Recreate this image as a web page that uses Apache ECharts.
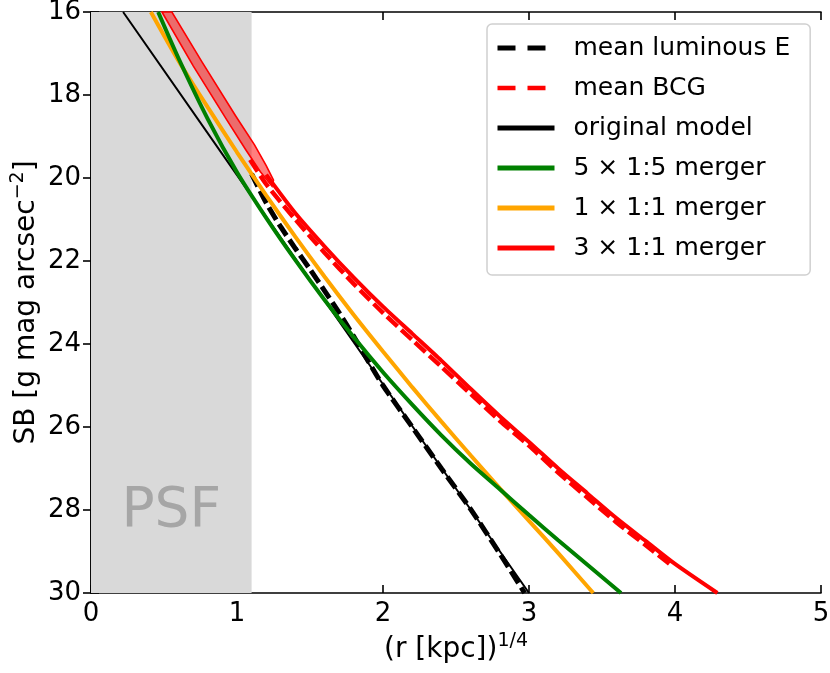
<!DOCTYPE html>
<html>
<head>
<meta charset="utf-8">
<script src="https://cdn.jsdelivr.net/npm/echarts@6/dist/echarts.min.js"></script>
<style>
html, body { margin: 0; padding: 0; background: #fff; }
#chart { width: 830px; height: 673px; }
</style>
</head>
<body>
<div id="chart"></div>
<script>
// 数据
var psfEdge = 1.1;

var lumEX = [1.10, 1.2, 1.3, 1.4, 1.5, 1.6, 1.7, 1.8, 1.9, 2.0, 2.2, 2.4, 2.6, 2.8, 2.97];
var lumEY = [19.9, 20.6, 21.18, 21.7, 22.2, 22.72, 23.25, 23.82, 24.42, 25.0, 26.0, 27.0, 27.98, 29.05, 30];

var bcgX = [1.09, 1.2, 1.4, 1.6, 1.8, 2.0, 2.2, 2.4, 2.6, 2.8, 3.0, 3.2, 3.4, 3.6, 3.8, 3.98];
var bcgY = [19.56, 20.15, 21.0, 21.8, 22.55, 23.25, 23.9, 24.55, 25.2, 25.85, 26.45, 27.1, 27.7, 28.3, 28.85, 29.35];

var origX = [0.22, 1.0, 2.0, 3.0];
var origY = [16, 19.93, 24.97, 30];

var greenX = [0.46, 0.6, 0.8, 1.0, 1.2, 1.4, 1.6, 1.8, 2.0, 2.2, 2.4, 2.6, 2.8, 3.0, 3.2, 3.4, 3.63];
var greenY = [16, 17.12, 18.58, 19.86, 20.96, 21.98, 22.94, 23.84, 24.68, 25.46, 26.2, 26.88, 27.5, 28.12, 28.73, 29.32, 30];

var orangeX = [0.41, 0.6, 0.8, 1.0, 1.2, 1.4, 1.6, 1.8, 2.0, 2.2, 2.4, 2.6, 2.8, 3.0, 3.2, 3.44];
var orangeY = [16, 17.18, 18.3, 19.38, 20.42, 21.42, 22.38, 23.3, 24.18, 25.04, 25.87, 26.68, 27.48, 28.26, 29.04, 30];

var redX = [1.2, 1.4, 1.6, 1.8, 2.0, 2.2, 2.4, 2.6, 2.8, 3.0, 3.2, 3.4, 3.6, 3.8, 4.0, 4.29];
var redY = [19.92, 20.85, 21.65, 22.4, 23.1, 23.75, 24.4, 25.08, 25.74, 26.36, 27.0, 27.6, 28.2, 28.75, 29.3, 30];

// spread of the 3 x 1:1 merger at small radii
var bandLeftX = [0.486, 0.70, 0.93, 1.06, 1.16, 1.24];
var bandLeftY = [16, 17.3, 18.6, 19.32, 19.85, 20.2];
var bandRightX = [0.554, 0.76, 0.99, 1.12, 1.2, 1.25];
var bandRightY = [16, 17.2, 18.5, 19.2, 19.7, 20.05];

var xTicks = [0, 5, 1];     // min, max, step
var yTicks = [16, 30, 2];

var FONT = 'DejaVu Sans';

function pairs(xs, ys) {
    return xs.map(function (x, i) { return [x, ys[i]]; });
}

var myChart = echarts.init(document.getElementById('chart'));

var axisLine = { show: true, lineStyle: { color: '#000', width: 1.6 } };
var axisTick = { show: true, inside: true, length: 8, lineStyle: { color: '#000', width: 1.6 } };
var supStyle = { fontSize: 19, fontFamily: FONT, color: '#000', verticalAlign: 'top', lineHeight: 19 };

function lineSeries(name, xs, ys, color, width, type, smooth) {
    return {
        name: name,
        type: 'line',
        data: pairs(xs, ys),
        symbol: 'none',
        smooth: smooth,
        lineStyle: { color: color, width: width, type: type, cap: 'butt' },
        itemStyle: { color: color },
        emphasis: { disabled: true },
        z: 3
    };
}

var option = {
    animation: false,
    backgroundColor: '#fff',
    grid: { left: 91, right: 9, top: 12, bottom: 80, containLabel: false, outerBoundsMode: 'none' },
    xAxis: [{
        type: 'value', min: xTicks[0], max: xTicks[1], interval: xTicks[2],
        axisLine: axisLine, axisTick: axisTick, splitLine: { show: false },
        axisLabel: { fontSize: 26, color: '#000', fontFamily: FONT, margin: 8 },
        name: '(r [kpc]){sup|1/4}', nameLocation: 'middle', nameGap: 29,
        nameTextStyle: { fontSize: 28, lineHeight: 36, color: '#000', fontFamily: FONT, rich: { sup: supStyle } }
    }, {
        type: 'value', position: 'top', min: xTicks[0], max: xTicks[1], interval: xTicks[2],
        axisLine: axisLine, axisTick: axisTick, axisLabel: { show: false }, splitLine: { show: false }
    }],
    yAxis: [{
        type: 'value', inverse: true, min: yTicks[0], max: yTicks[1], interval: yTicks[2],
        axisLine: axisLine, axisTick: axisTick, splitLine: { show: false },
        axisLabel: { fontSize: 26, color: '#000', fontFamily: FONT, margin: 10 },
        name: 'SB [g mag arcsec{sup|\u22122}]', nameLocation: 'middle', nameGap: 46, nameRotate: 90,
        nameMoveOverlap: false,
        nameTextStyle: { fontSize: 28, lineHeight: 36, color: '#000', fontFamily: FONT, rich: { sup: supStyle } }
    }, {
        type: 'value', position: 'right', inverse: true, min: yTicks[0], max: yTicks[1], interval: yTicks[2],
        axisLine: axisLine, axisTick: axisTick, axisLabel: { show: false }, splitLine: { show: false }
    }],
    legend: {
        orient: 'vertical', left: 487, top: 24,
        backgroundColor: '#fff', borderColor: '#d0d0d0', borderWidth: 1.5, borderRadius: 5,
        padding: [10, 20, 13, 8],
        itemWidth: 57, itemHeight: 14, itemGap: 12,
        itemStyle: { opacity: 0, borderWidth: 0 },
        textStyle: { fontSize: 25, fontFamily: FONT, color: '#000', lineHeight: 28, padding: [0, 0, 0, 14] },
        data: [
            { name: 'mean luminous E', lineStyle: { width: 5, type: [18, 12] } },
            { name: 'mean BCG', lineStyle: { width: 4.5, type: [18, 12] } },
            { name: 'original model', lineStyle: { width: 5 } },
            { name: '5 \u00d7 1:5 merger', lineStyle: { width: 5 } },
            { name: '1 \u00d7 1:1 merger', lineStyle: { width: 5 } },
            { name: '3 \u00d7 1:1 merger', lineStyle: { width: 5 } }
        ]
    },
    series: [
        {
            name: 'psf', type: 'line', data: [[0, 16]], symbol: 'none', silent: true,
            lineStyle: { width: 0 }, z: 1,
            markArea: {
                silent: true,
                itemStyle: { color: '#d9d9d9' },
                label: { show: true, position: 'insideBottom', distance: 54, formatter: 'PSF', fontSize: 55, fontFamily: FONT, color: '#a6a6a6' },
                data: [[{ xAxis: 0, yAxis: yTicks[0] }, { xAxis: psfEdge, yAxis: yTicks[1] }]]
            }
        },
        lineSeries('mean luminous E', lumEX, lumEY, '#000000', 5, [14, 5], 0.25),
        lineSeries('mean BCG', bcgX, bcgY, '#ff0000', 4.5, [14, 5], 0.25),
        lineSeries('original model', origX, origY, '#000000', 2, 'solid', false),
        lineSeries('1 \u00d7 1:1 merger', orangeX, orangeY, '#ffa500', 4, 'solid', 0.25),
        lineSeries('5 \u00d7 1:5 merger', greenX, greenY, '#008000', 4, 'solid', 0.25),
        {
            name: 'band', type: 'custom', silent: true, z: 4,
            data: [[bandLeftX[0], bandLeftY[0]]],
            renderItem: function (params, api) {
                var pts = [];
                for (var i = 0; i < bandLeftX.length; i++) pts.push(api.coord([bandLeftX[i], bandLeftY[i]]));
                for (var j = bandRightX.length - 1; j >= 0; j--) pts.push(api.coord([bandRightX[j], bandRightY[j]]));
                return {
                    type: 'polygon',
                    shape: { points: pts },
                    style: { fill: 'rgba(255,0,0,0.5)', stroke: '#ff0000', lineWidth: 1.6 }
                };
            }
        },
        lineSeries('3 \u00d7 1:1 merger', redX, redY, '#ff0000', 4, 'solid', 0.25)
    ]
};

myChart.setOption(option);
</script>
</body>
</html>
